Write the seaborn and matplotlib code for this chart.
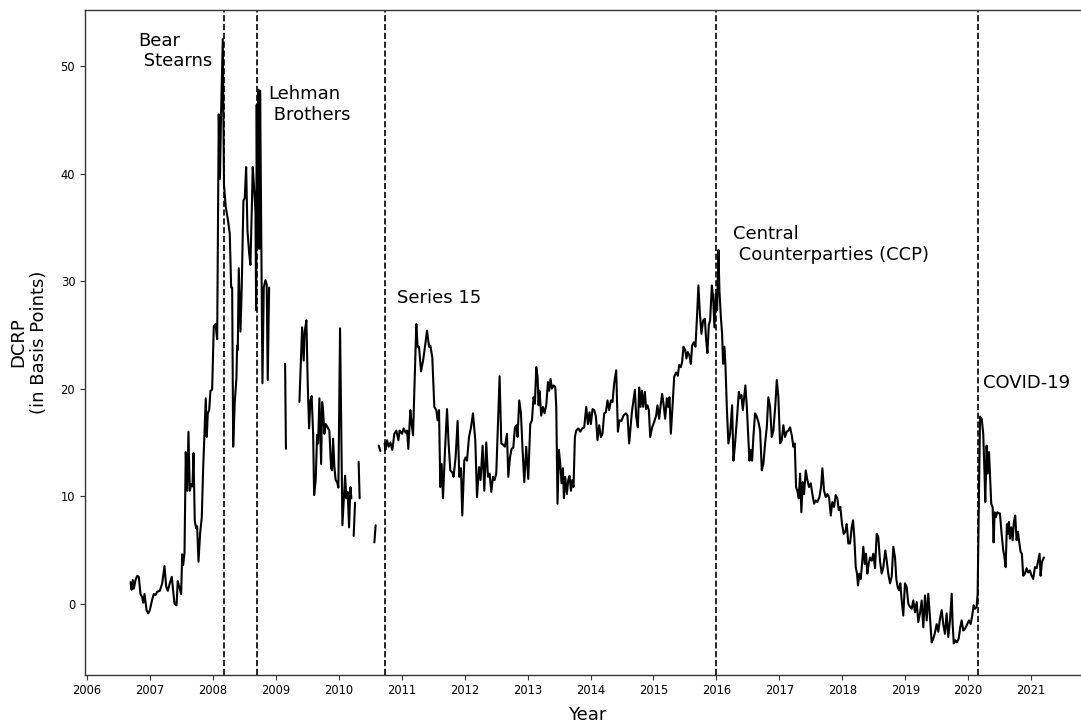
import numpy as np
import pandas as pd
import matplotlib
matplotlib.use("Agg")
import matplotlib.pyplot as plt
from matplotlib.ticker import MultipleLocator, FormatStrFormatter
import seaborn as sns

# Weekly DCRP observations (decimal year, basis points)
year = [
    2006.694, 2006.710, 2006.730, 2006.746, 2006.773, 2006.800, 2006.825, 2006.852,
    2006.879, 2006.895, 2006.916, 2006.948, 2006.975, 2007.000, 2007.038, 2007.063,
    2007.090, 2007.117, 2007.159, 2007.197, 2007.233, 2007.260, 2007.286, 2007.317,
    2007.349, 2007.371, 2007.392, 2007.424, 2007.444, 2007.467, 2007.498, 2007.514,
    2007.530, 2007.551, 2007.571, 2007.594, 2007.614, 2007.635, 2007.657, 2007.678,
    2007.694, 2007.714, 2007.737, 2007.752, 2007.773, 2007.800, 2007.825, 2007.848,
    2007.868, 2007.889, 2007.905, 2007.921, 2007.943, 2007.963, 2007.990, 2008.016,
    2008.043, 2008.070, 2008.095, 2008.114, 2008.130, 2008.159, 2008.178, 2008.206,
    2008.238, 2008.270, 2008.292, 2008.308, 2008.324, 2008.349, 2008.376, 2008.387,
    2008.397, 2008.413, 2008.440, 2008.460, 2008.487, 2008.508, 2008.530, 2008.551,
    2008.578, 2008.598, 2008.619, 2008.635, 2008.657, 2008.678, 2008.689, 2008.698,
    2008.710, 2008.725, 2008.741, 2008.752, 2008.773, 2008.789, 2008.810, 2008.837,
    2008.857, 2008.873, 2008.895,
    2009.149, 2009.162,
    2009.376, 2009.419, 2009.444, 2009.460, 2009.487, 2009.508, 2009.530, 2009.551,
    2009.571, 2009.594, 2009.610, 2009.635, 2009.657, 2009.673, 2009.694, 2009.721,
    2009.737, 2009.752, 2009.773, 2009.794, 2009.825, 2009.852, 2009.879, 2009.895,
    2009.911, 2009.932, 2009.952, 2009.975, 2009.995, 2010.022, 2010.059, 2010.102,
    2010.122, 2010.143, 2010.165, 2010.186, 2010.202,
    2010.238, 2010.260,
    2010.317, 2010.333,
    2010.567, 2010.587,
    2010.635, 2010.662,
    2010.730, 2010.741, 2010.768, 2010.794, 2010.821, 2010.852, 2010.884, 2010.916,
    2010.948, 2010.968, 2011.006, 2011.032, 2011.063, 2011.086, 2011.106, 2011.138,
    2011.159, 2011.181, 2011.202, 2011.233, 2011.254, 2011.276, 2011.308, 2011.340,
    2011.371, 2011.403, 2011.435, 2011.456, 2011.487, 2011.519, 2011.551, 2011.571,
    2011.594, 2011.614, 2011.635, 2011.657, 2011.689, 2011.721, 2011.746, 2011.773,
    2011.805, 2011.825, 2011.857, 2011.889, 2011.916, 2011.943, 2011.963, 2011.995,
    2012.016, 2012.038, 2012.070, 2012.102, 2012.133, 2012.170, 2012.197, 2012.229,
    2012.254, 2012.286, 2012.313, 2012.344, 2012.371, 2012.397, 2012.424, 2012.451,
    2012.476, 2012.503, 2012.535, 2012.556, 2012.583, 2012.610, 2012.641, 2012.673,
    2012.694, 2012.721, 2012.746, 2012.773, 2012.800, 2012.825, 2012.841, 2012.868,
    2012.895, 2012.921, 2012.948, 2012.979, 2013.011, 2013.043, 2013.070, 2013.095,
    2013.117, 2013.138, 2013.159, 2013.175, 2013.190, 2013.217, 2013.244, 2013.270,
    2013.297, 2013.324, 2013.344, 2013.365, 2013.387, 2013.413, 2013.440, 2013.456,
    2013.476, 2013.498, 2013.519, 2013.540, 2013.562, 2013.578, 2013.598, 2013.625,
    2013.646, 2013.667, 2013.689, 2013.710, 2013.730, 2013.752, 2013.773, 2013.805,
    2013.837, 2013.868, 2013.900, 2013.932, 2013.959, 2013.984, 2014.006, 2014.032,
    2014.059, 2014.086, 2014.111, 2014.138, 2014.165, 2014.190, 2014.217, 2014.244,
    2014.270, 2014.297, 2014.324, 2014.349, 2014.376, 2014.408, 2014.435, 2014.460,
    2014.492, 2014.524, 2014.562, 2014.587, 2014.614, 2014.657, 2014.683, 2014.705,
    2014.725, 2014.752, 2014.773, 2014.794, 2014.816, 2014.837, 2014.863, 2014.884,
    2014.905, 2014.927, 2014.948, 2014.979, 2015.011, 2015.043, 2015.063, 2015.090,
    2015.117, 2015.138, 2015.159, 2015.186, 2015.213, 2015.233, 2015.254, 2015.276,
    2015.302, 2015.329, 2015.360, 2015.387, 2015.408, 2015.435, 2015.456, 2015.476,
    2015.503, 2015.524, 2015.546, 2015.571, 2015.594, 2015.614, 2015.641, 2015.667,
    2015.694, 2015.714, 2015.737, 2015.762, 2015.789, 2015.816, 2015.837, 2015.857,
    2015.879, 2015.900, 2015.927, 2015.948, 2015.968, 2015.990, 2016.011, 2016.032,
    2016.048, 2016.070, 2016.090, 2016.106, 2016.127, 2016.143, 2016.165, 2016.190,
    2016.217, 2016.249, 2016.270, 2016.292, 2016.324, 2016.356, 2016.376, 2016.397,
    2016.419, 2016.440, 2016.460, 2016.483, 2016.503, 2016.524, 2016.546, 2016.567,
    2016.587, 2016.614, 2016.641, 2016.667, 2016.694, 2016.721, 2016.746, 2016.773,
    2016.800, 2016.825, 2016.852, 2016.879, 2016.905, 2016.937, 2016.959, 2016.984,
    2017.011, 2017.038, 2017.063, 2017.090, 2017.117, 2017.143, 2017.170, 2017.197,
    2017.222, 2017.244, 2017.265, 2017.286, 2017.308, 2017.329, 2017.349, 2017.371,
    2017.392, 2017.419, 2017.444, 2017.471, 2017.498, 2017.524, 2017.551, 2017.578,
    2017.603, 2017.635, 2017.662, 2017.683, 2017.710, 2017.737, 2017.762, 2017.789,
    2017.816, 2017.841, 2017.868, 2017.895, 2017.921, 2017.943, 2017.968, 2017.995,
    2018.022, 2018.048, 2018.070, 2018.095, 2018.122, 2018.149, 2018.170, 2018.190,
    2018.213, 2018.233, 2018.249, 2018.270, 2018.292, 2018.313, 2018.333, 2018.356,
    2018.376, 2018.397, 2018.419, 2018.440, 2018.467, 2018.492, 2018.519, 2018.546,
    2018.571, 2018.598, 2018.625, 2018.651, 2018.683, 2018.705, 2018.730, 2018.757,
    2018.784, 2018.810, 2018.837, 2018.857, 2018.879, 2018.900, 2018.921, 2018.943,
    2018.968, 2018.995, 2019.022, 2019.048, 2019.075, 2019.102, 2019.127, 2019.154,
    2019.181, 2019.206, 2019.233, 2019.260, 2019.286, 2019.313, 2019.340, 2019.365,
    2019.392, 2019.419, 2019.444, 2019.467, 2019.498, 2019.524, 2019.551, 2019.578,
    2019.603, 2019.630, 2019.657, 2019.683, 2019.710, 2019.737, 2019.752, 2019.770,
    2019.795, 2019.821, 2019.848, 2019.873, 2019.895, 2019.921, 2019.952, 2019.984,
    2020.011, 2020.038, 2020.063, 2020.086, 2020.106, 2020.133, 2020.149, 2020.167,
    2020.187, 2020.214, 2020.238, 2020.260, 2020.270, 2020.292, 2020.308, 2020.330,
    2020.344, 2020.365, 2020.387, 2020.403, 2020.419, 2020.440, 2020.460, 2020.487,
    2020.503, 2020.530, 2020.556, 2020.571, 2020.594, 2020.614, 2020.630, 2020.646,
    2020.662, 2020.683, 2020.705, 2020.725, 2020.746, 2020.768, 2020.789, 2020.810,
    2020.832, 2020.852, 2020.873, 2020.900, 2020.927, 2020.952, 2020.979, 2021.006,
    2021.032, 2021.059, 2021.086, 2021.111, 2021.133, 2021.149, 2021.171, 2021.202,
]

dcrp = [
    2.0, 1.3, 2.2, 1.4, 2.2, 2.6, 2.5, 0.9,
    0.6, 0.1, 0.9, -0.6, -0.9, -0.6, 0.4, 0.9,
    0.8, 1.1, 1.2, 1.9, 3.5, 1.6, 1.2, 1.9,
    2.5, 1.2, 0.0, -0.15, 2.1, 1.6, 0.9, 4.6,
    3.6, 4.7, 14.1, 10.5, 16.0, 10.5, 11.1, 10.9,
    14.0, 7.7, 7.0, 7.2, 3.9, 6.6, 8.0, 12.7,
    15.8, 19.1, 15.5, 17.7, 18.0, 19.8, 19.9, 25.8,
    26.0, 24.6, 45.5, 39.5, 45.0, 52.5, 39.0, 36.9,
    35.8, 34.4, 29.4, 29.4, 14.6, 18.7, 21.0, 24.0,
    23.6, 31.2, 25.3, 29.4, 37.5, 37.7, 40.6, 34.7,
    32.6, 31.5, 36.5, 40.6, 38.6, 36.5, 27.3, 46.4,
    33.0, 47.8, 33.0, 47.7, 32.2, 20.5, 29.4, 30.1,
    29.7, 20.8, 29.4,
    22.3, 14.4,
    18.75, 25.7, 22.6, 25.3, 26.35, 20.5, 16.3, 18.9,
    19.3, 15.8, 10.1, 11.5, 15.7, 14.9, 19.1, 13.0,
    18.75, 18.0, 15.8, 16.7, 16.4, 16.1, 12.6, 12.4,
    15.35, 12.7, 11.5, 11.3, 10.8, 25.6, 7.3, 11.9,
    9.8, 10.4, 7.1, 10.85, 9.8,
    6.3, 9.4,
    13.2, 9.8,
    5.7, 7.3,
    14.7, 14.2,
    14.9, 14.3, 15.2, 14.6, 15.0, 14.3, 15.8, 16.1,
    15.2, 16.1, 15.8, 16.3, 15.9, 16.1, 14.4, 18.0,
    16.7, 15.65, 19.8, 26.0, 23.9, 23.9, 21.6, 22.6,
    23.9, 25.4, 23.9, 24.0, 22.9, 18.3, 18.0, 17.05,
    18.0, 10.85, 13.0, 9.8, 14.3, 18.1, 14.9, 12.4,
    12.2, 11.8, 13.6, 17.0, 11.8, 12.6, 8.2, 13.3,
    13.6, 13.3, 15.5, 16.4, 17.7, 15.2, 9.9, 12.7,
    11.5, 14.7, 10.5, 15.0, 11.8, 12.1, 10.4, 11.8,
    11.5, 12.1, 17.4, 21.15, 14.9, 14.8, 14.6, 15.8,
    11.8, 13.6, 14.4, 14.5, 16.4, 16.6, 15.5, 18.9,
    17.7, 14.3, 11.3, 14.6, 11.6, 16.7, 17.05, 19.2,
    18.6, 22.0, 21.1, 18.45, 19.8, 17.5, 18.3, 17.7,
    18.45, 20.6, 19.8, 20.9, 20.0, 20.3, 20.15, 18.3,
    9.3, 14.3, 13.0, 11.2, 12.6, 9.8, 11.8, 10.2,
    11.5, 11.9, 10.5, 11.5, 10.85, 15.5, 16.1, 16.3,
    16.0, 16.3, 16.4, 18.3, 16.7, 17.8, 16.7, 18.1,
    18.0, 17.4, 15.2, 16.6, 15.5, 15.8, 17.7, 17.8,
    18.9, 18.0, 18.9, 18.75, 20.5, 21.7, 16.0, 17.05,
    17.0, 17.5, 17.7, 17.5, 14.9, 17.8, 18.9, 19.9,
    17.4, 16.4, 20.1, 18.3, 19.8, 18.3, 19.7, 18.1,
    18.45, 18.0, 15.5, 16.4, 16.9, 17.5, 18.45, 17.2,
    18.6, 19.5, 18.6, 17.2, 19.1, 18.3, 19.2, 15.8,
    18.3, 21.1, 21.5, 21.2, 22.2, 22.0, 22.5, 23.9,
    23.6, 22.8, 23.4, 23.1, 22.3, 24.0, 24.3, 23.9,
    27.0, 29.6, 27.0, 25.1, 26.35, 26.5, 24.5, 23.3,
    25.9, 26.35, 29.6, 28.5, 25.7, 28.8, 27.3, 32.9,
    29.1, 26.7, 25.1, 22.3, 23.9, 22.2, 18.3, 14.9,
    15.8, 18.45, 13.3, 14.6, 17.05, 19.7, 19.1, 19.4,
    18.0, 19.2, 20.3, 18.3, 15.8, 13.3, 14.3, 13.3,
    15.5, 17.7, 17.4, 16.9, 16.1, 12.4, 13.0, 14.9,
    16.4, 19.2, 18.3, 15.5, 16.1, 18.6, 20.8, 19.2,
    14.9, 15.2, 16.6, 15.5, 16.0, 16.1, 16.4, 15.65,
    14.6, 14.9, 10.85, 10.5, 9.8, 12.1, 8.5, 11.3,
    10.2, 12.4, 11.5, 10.85, 11.2, 10.2, 9.3, 9.6,
    9.45, 9.9, 10.85, 12.6, 10.5, 9.9, 10.2, 9.9,
    8.2, 9.45, 9.0, 10.1, 9.8, 8.7, 9.0, 7.4,
    6.5, 6.7, 7.4, 5.6, 5.6, 7.1, 7.75, 6.2,
    3.4, 2.8, 1.7, 2.8, 2.3, 3.7, 5.3, 3.7,
    4.65, 2.8, 3.7, 4.3, 4.0, 4.65, 3.3, 6.5,
    6.2, 4.0, 2.8, 3.4, 4.95, 4.0, 2.8, 1.9,
    2.5, 5.3, 4.3, 2.3, 1.55, 1.24, 1.9, 0.3,
    -1.1, 1.9, 1.55, 0.0, -0.3, -0.47, 0.3, -0.8,
    0.15, -1.7, -0.9, 0.3, -2.2, 0.77, -1.55, 0.93,
    -1.25, -3.6, -3.25, -2.8, -1.9, -2.6, -1.4, -0.6,
    -1.9, -2.8, -0.9, -3.1, -1.55, 0.93, -1.9, -3.7,
    -3.4, -3.6, -3.25, -2.2, -1.55, -2.5, -2.3, -1.9,
    -1.55, -1.9, -1.1, -0.15, -0.47, -0.3, 0.93, 8.7,
    17.4, 17.2, 15.8, 11.8, 9.45, 14.7, 12.1, 14.1,
    12.1, 9.3, 9.0, 5.7, 8.5, 8.05, 8.5, 8.4,
    8.4, 6.5, 4.95, 4.5, 3.4, 7.4, 6.5, 7.6,
    6.05, 7.1, 5.9, 7.6, 8.2, 5.9, 6.7, 5.7,
    4.8, 4.65, 2.6, 2.8, 3.3, 2.9, 3.1, 2.6,
    2.3, 3.4, 3.3, 4.0, 4.65, 2.6, 3.9, 4.3,
]

# Last observation before each gap in the series
gap_after = [2008.895, 2009.162, 2010.202, 2010.260, 2010.333, 2010.587, 2010.662]

# Market events marked with dashed lines
event_years = [2008.175, 2008.705, 2010.74, 2016.0, 2020.15]
event_labels = ["Bear\n Stearns", "Lehman\n Brothers", "Series 15",
                "Central\n Counterparties (CCP)", "COVID-19"]
label_x = [2006.82, 2008.885, 2010.93, 2016.265, 2020.233]
label_y = [53.2, 48.2, 29.3, 35.2, 21.4]

sns.set_style("ticks", {"axes.edgecolor": ".2", "xtick.color": ".2", "ytick.color": ".2"})
plt.rcParams["font.family"] = ["DejaVu Sans"]

df = pd.DataFrame({"Year": year, "DCRP": dcrp})
df["segment"] = np.searchsorted(gap_after, df["Year"].to_numpy(), side="left")

fig = plt.figure(figsize=(10.81, 7.24), dpi=100)
ax = fig.add_axes([0.0786, 0.0681, 0.9295, 0.918])

sns.lineplot(data=df, x="Year", y="DCRP", units="segment", estimator=None,
             sort=False, color="black", linewidth=1.5, ax=ax)

for ev in event_years:
    ax.axvline(ev, color="black", linestyle="--", linewidth=1.2)

for lx, ly, txt in zip(label_x, label_y, event_labels):
    ax.text(lx, ly, txt, fontsize=13, ha="left", va="top", color="black")

ax.set_xlim(2005.97, 2021.93)
ax.set_ylim(-6.6, 55.2)
ax.xaxis.set_major_locator(MultipleLocator(1))
ax.xaxis.set_major_formatter(FormatStrFormatter("%d"))
ax.yaxis.set_major_locator(MultipleLocator(10))
ax.tick_params(labelsize=8.3, labelcolor="black")
ax.spines["right"].set_visible(False)
for side in ["left", "bottom", "top"]:
    ax.spines[side].set_linewidth(1.0)

ax.set_xlabel("Year", fontsize=13, labelpad=6, color="black")
ax.set_ylabel("DCRP\n(in Basis Points)", fontsize=13, labelpad=9, color="black")

fig.savefig("out.png", dpi=100)
